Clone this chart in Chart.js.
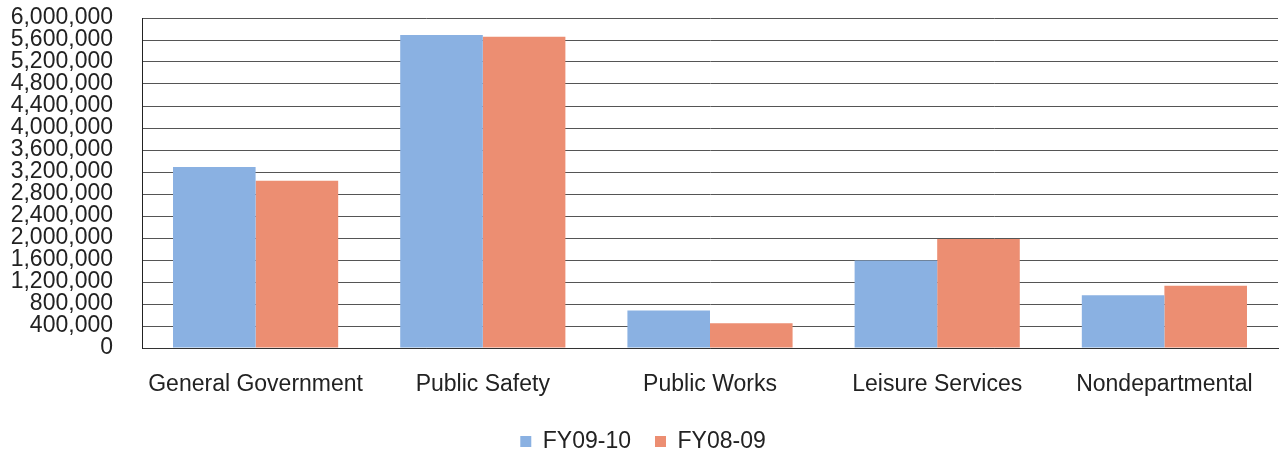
<!DOCTYPE html>
<html>
<head>
<meta charset="utf-8">
<script src="https://cdn.jsdelivr.net/npm/chart.js@4/dist/chart.umd.min.js"></script>
<style>
  html, body { margin: 0; padding: 0; background: #fff; }
  #wrap { width: 1282px; height: 453px; position: relative; overflow: hidden; }
</style>
</head>
<body>
<div id="wrap"><canvas id="c" width="1282" height="453"></canvas></div>
<script>
const categories = ["General Government", "Public Safety", "Public Works", "Leisure Services", "Nondepartmental"];
const seriesNames = ["FY09-10", "FY08-09"];
const fy0910 = [3290000, 5690000, 680000, 1590000, 960000];
const fy0809 = [3040000, 5660000, 450000, 1980000, 1130000];
const yMin = 0, yMax = 6000000, yStep = 400000;

const BLUE = "rgb(138,177,226)";
const ORANGE = "rgb(236,142,114)";

Chart.defaults.font.family = "'Liberation Sans', Arial, sans-serif";
Chart.defaults.color = "#222";

new Chart(document.getElementById("c"), {
  type: "bar",
  data: {
    labels: categories,
    datasets: [
      { label: seriesNames[0], data: fy0910, backgroundColor: BLUE, borderWidth: 0 },
      { label: seriesNames[1], data: fy0809, backgroundColor: ORANGE, borderWidth: 0 }
    ]
  },
  options: {
    responsive: false,
    animation: false,
    layout: { padding: { top: 0, right: 4, left: 8, bottom: -10 } },
    datasets: { bar: { categoryPercentage: 0.727, barPercentage: 1.0 } },
    plugins: {
      tooltip: { enabled: false },
      legend: {
        position: "bottom",
        labels: {
          boxWidth: 11, boxHeight: 11, padding: 24,
          font: { size: 23 }, color: "#222"
        }
      }
    },
    scales: {
      x: {
        grid: { display: false, drawTicks: false },
        border: { display: true, color: "#333", width: 1 },
        ticks: { font: { size: 23 }, padding: 23, color: "#222", maxRotation: 0, autoSkip: false },
        afterFit: s => { s.height = 58; s.paddingLeft = 0; s.paddingRight = 0; }
      },
      y: {
        min: yMin, max: yMax,
        grid: { color: "#555", lineWidth: 1, drawTicks: false },
        border: { display: true, color: "#222", width: 1 },
        ticks: {
          stepSize: yStep, autoSkip: false, padding: 29,
          font: { size: 23, lineHeight: 1 }, color: "#222",
          callback: v => v.toLocaleString("en-US")
        },
        afterFit: s => { s.width = 134; s.paddingTop = 18; s.paddingBottom = 0; }
      }
    }
  }
});
</script>
</body>
</html>
